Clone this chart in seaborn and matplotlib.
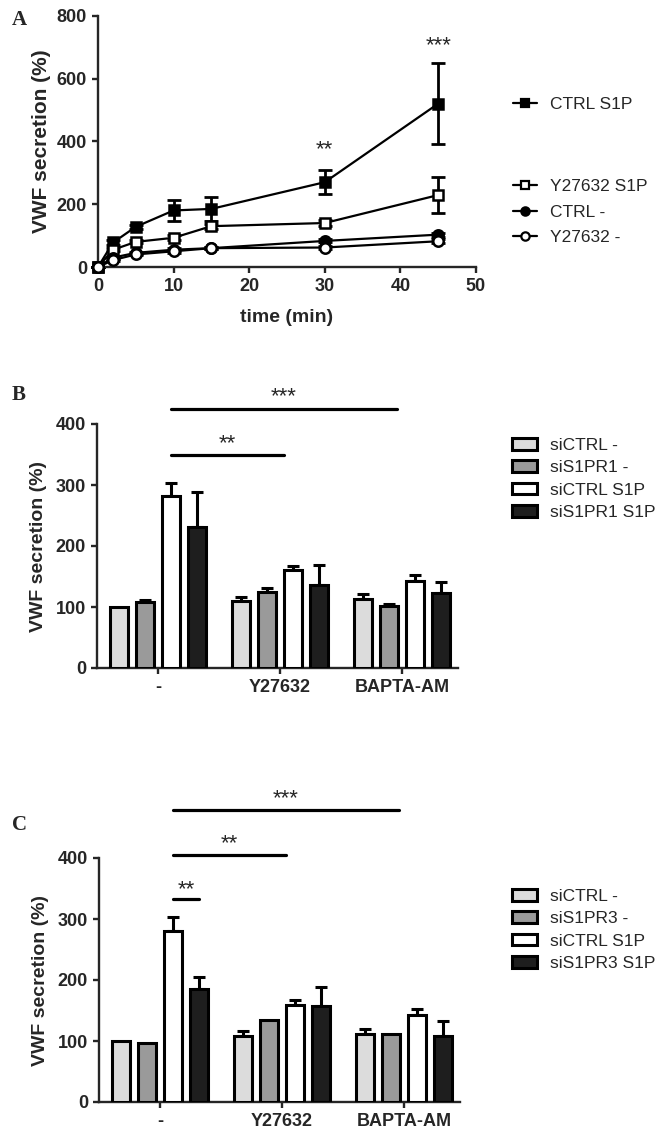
import numpy as np
import pandas as pd
import matplotlib.pyplot as plt
import seaborn as sns
from matplotlib.lines import Line2D
from matplotlib.patches import Patch

# ---- panel A data: VWF secretion over time ----
time_min = [0, 2, 5, 10, 15, 30, 45]
ctrl_s1p = [0, 78, 128, 180, 185, 270, 520]
ctrl_s1p_err = [0, 8, 6, 33, 38, 38, 130]
y27_s1p = [0, 55, 80, 93, 130, 140, 229]
y27_s1p_err = [0, 5, 5, 8, 8, 10, 58]
ctrl_neg = [0, 30, 45, 55, 60, 83, 103]
ctrl_neg_err = [0, 3, 3, 4, 4, 5, 6]
y27_neg = [0, 22, 40, 50, 60, 62, 82]
y27_neg_err = [0, 3, 3, 4, 4, 5, 6]

# ---- panels B / C data ----
treatments = ['-', 'Y27632', 'BAPTA-AM']
b_conditions = ['siCTRL -', 'siS1PR1 -', 'siCTRL S1P', 'siS1PR1 S1P']
b_means = [[100, 110, 113],
           [108, 124, 101],
           [282, 160, 142],
           [231, 136, 123]]
b_errs = [[0, 7, 8],
          [3, 7, 4],
          [22, 8, 11],
          [58, 33, 18]]

c_conditions = ['siCTRL -', 'siS1PR3 -', 'siCTRL S1P', 'siS1PR3 S1P']
c_means = [[100, 109, 112],
           [97, 135, 111],
           [281, 159, 142],
           [185, 158, 109]]
c_errs = [[0, 7, 8],
          [0, 0, 0],
          [22, 8, 11],
          [20, 30, 23]]

bar_colors = ['#dcdcdc', '#9a9a9a', '#ffffff', '#1e1e1e']

sns.set_style('ticks')
plt.rcParams['font.family'] = ['Liberation Sans', 'DejaVu Sans']
plt.rcParams['axes.linewidth'] = 1.7
plt.rcParams['xtick.major.width'] = 1.7
plt.rcParams['ytick.major.width'] = 1.7
plt.rcParams['xtick.major.size'] = 4.5
plt.rcParams['ytick.major.size'] = 4.5

fig = plt.figure(figsize=(6.67, 11.34), dpi=100)
W, H = 667, 1134


def frac_box(left, top, right, bottom):
    return [left / W, 1 - bottom / H, (right - left) / W, (bottom - top) / H]


# ================= panel A =================
axA = fig.add_axes(frac_box(98, 15.7, 476, 267))
series = [
    ('CTRL S1P', ctrl_s1p, ctrl_s1p_err, 's', 'black'),
    ('Y27632 S1P', y27_s1p, y27_s1p_err, 's', 'white'),
    ('CTRL -', ctrl_neg, ctrl_neg_err, 'o', 'black'),
    ('Y27632 -', y27_neg, y27_neg_err, 'o', 'white'),
]
for name, vals, errs, mk, fc in series:
    df = pd.DataFrame({'time': time_min, 'vwf': vals})
    axA.errorbar(time_min, vals, yerr=errs, fmt='none', ecolor='black',
                 elinewidth=2, capsize=5, capthick=2, clip_on=False, zorder=2)
    sns.lineplot(data=df, x='time', y='vwf', ax=axA, color='black', lw=1.6,
                 marker=mk, markersize=7.5, markerfacecolor=fc,
                 markeredgecolor='black', markeredgewidth=1.8,
                 clip_on=False, zorder=3)

axA.set_xlim(0, 50)
axA.set_ylim(0, 800)
axA.set_xticks(range(0, 51, 10))
axA.set_yticks(range(0, 801, 200))
axA.set_xlabel('time (min)', fontsize=14, fontweight='bold', labelpad=10)
axA.set_ylabel('VWF secretion (%)', fontsize=15, fontweight='bold', labelpad=4)
for lab in axA.get_xticklabels() + axA.get_yticklabels():
    lab.set_fontweight('bold')
axA.tick_params(labelsize=13)
sns.despine(ax=axA)
axA.text(30, 375, '**', ha='center', va='center', fontsize=16)
axA.text(45, 706, '***', ha='center', va='center', fontsize=16)


def line_handle(mk, fc):
    return Line2D([0], [0], color='black', lw=1.6, marker=mk, markersize=6,
                  markerfacecolor=fc, markeredgecolor='black', markeredgewidth=1.6)


legA_kw = dict(frameon=False, fontsize=12.5, handlelength=1.4, handletextpad=0.75,
               borderpad=0, borderaxespad=0, labelspacing=0.6, loc='center left')
leg1 = fig.legend([line_handle('s', 'black')], ['CTRL S1P'],
                  bbox_to_anchor=(513 / W, 1 - 104 / H), **legA_kw)
fig.legend([line_handle(s[3], s[4]) for s in series[1:]], [s[0] for s in series[1:]],
           bbox_to_anchor=(513 / W, 1 - 212 / H), **legA_kw)


# ================= panels B and C =================
def bar_panel(ax, conditions, means, errs):
    df = pd.DataFrame([
        {'treatment': t, 'condition': c, 'vwf': means[i][j]}
        for i, c in enumerate(conditions) for j, t in enumerate(treatments)
    ])
    sns.barplot(data=df, x='treatment', y='vwf', hue='condition',
                order=treatments, hue_order=conditions, palette=bar_colors,
                width=0.85, gap=0.32, edgecolor='black', linewidth=2.2,
                errorbar=None, legend=False, ax=ax, zorder=3)
    bar_sets = list(ax.containers)
    for i, cont in enumerate(bar_sets):
        for j, bar in enumerate(cont):
            e = errs[i][j]
            if e > 0:
                x = bar.get_x() + bar.get_width() / 2
                ax.errorbar(x, bar.get_height(), yerr=[[0], [e]], fmt='none',
                            ecolor='black', elinewidth=2.2, capsize=4.5,
                            capthick=2.2, zorder=2)
    ax.set_xlim(-0.5, 2.46)
    ax.set_ylim(0, 400)
    ax.set_yticks(range(0, 401, 100))
    ax.set_xlabel('')
    ax.set_ylabel('VWF secretion (%)', fontsize=14, fontweight='bold', labelpad=6)
    ax.tick_params(labelsize=13)
    for lab in ax.get_xticklabels() + ax.get_yticklabels():
        lab.set_fontweight('bold')
    sns.despine(ax=ax)
    handles = [Patch(facecolor=c, edgecolor='black', linewidth=2.2) for c in bar_colors]
    return handles


def sig(ax, x0, x1, y, ty, label):
    ax.plot([x0, x1], [y, y], color='black', lw=2.3, clip_on=False,
            solid_capstyle='round')
    ax.text((x0 + x1) / 2, ty, label, ha='center', va='center', fontsize=16)


legB_kw = dict(frameon=False, fontsize=12.5, handlelength=1.45, handleheight=0.65,
               handletextpad=0.75, borderpad=0, borderaxespad=0,
               labelspacing=0.42, loc='center left')

axB = fig.add_axes(frac_box(97, 424, 458, 668))
hB = bar_panel(axB, b_conditions, b_means, b_errs)
sig(axB, 0.106, 1.96, 425, 444, '***')
sig(axB, 0.106, 1.03, 349, 367, '**')
fig.legend(hB, b_conditions, bbox_to_anchor=(512 / W, 1 - 479 / H), **legB_kw)

axC = fig.add_axes(frac_box(99, 858, 460, 1102))
hC = bar_panel(axC, c_conditions, c_means, c_errs)
sig(axC, 0.106, 1.96, 478, 497, '***')
sig(axC, 0.106, 1.03, 405, 423, '**')
sig(axC, 0.106, 0.32, 333, 348, '**')
fig.legend(hC, c_conditions, bbox_to_anchor=(512 / W, 1 - 930 / H), **legB_kw)

# panel letters
for letter, py in [('A', 20), ('B', 395), ('C', 825)]:
    fig.text(12 / W, 1 - py / H, letter, fontsize=15, fontweight='bold',
             family=['Liberation Serif', 'DejaVu Serif'], va='center', ha='left')

fig.savefig('out.png', dpi=100)
